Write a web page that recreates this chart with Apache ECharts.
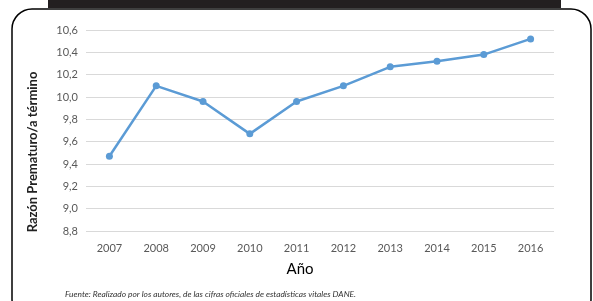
<!DOCTYPE html>
<html>
<head>
    <meta charset="utf-8">
    <title>Razón prematuro/a término</title>
    <style>
        html, body { margin: 0; padding: 0; background: #fff; }
        #chart { width: 593px; height: 301px; }
    </style>
</head>
<body>
<div id="chart"></div>
<script src="https://cdn.jsdelivr.net/npm/echarts@6/dist/echarts.min.js"></script>
<script>
    // datos
    var anios = ['2007', '2008', '2009', '2010', '2011', '2012', '2013', '2014', '2015', '2016'];
    var razon = [9.47, 10.10, 9.96, 9.67, 9.96, 10.10, 10.27, 10.32, 10.38, 10.52];
    var yMin = 8.8, yMax = 10.6, yPaso = 0.2;

    var myChart = echarts.init(document.getElementById('chart'));
    var fuente = 'Lato, "Open Sans", sans-serif';

    var option = {
        animation: false,
        grid: { left: 86, right: 39, top: 30, bottom: 70 },
        xAxis: {
            type: 'category',
            data: anios,
            boundaryGap: true,
            axisLine: { show: false },
            axisTick: { show: false },
            axisLabel: { color: '#595959', fontSize: 11, fontFamily: fuente, margin: 12 }
        },
        yAxis: {
            type: 'value',
            min: yMin,
            max: yMax,
            interval: yPaso,
            axisLine: { show: false },
            axisTick: { show: false },
            splitLine: { lineStyle: { color: '#d9d9d9', width: 1 } },
            axisLabel: {
                color: '#595959', fontSize: 11, fontFamily: fuente, margin: 8,
                formatter: function (v) { return v.toFixed(1).replace('.', ','); }
            }
        },
        series: [{
            type: 'line',
            data: razon,
            symbol: 'circle',
            symbolSize: 7,
            lineStyle: { color: '#5b9bd5', width: 2.5 },
            itemStyle: { color: '#5b9bd5' }
        }],
        graphic: [
            // marco redondeado
            {
                type: 'rect', silent: true, z: -1,
                shape: { x: 12, y: 9, width: 579, height: 310, r: 20 },
                style: { fill: 'none', stroke: '#000', lineWidth: 1.5 }
            },
            // franja superior negra
            {
                type: 'rect', silent: true,
                shape: { x: 48, y: 0, width: 513, height: 8 },
                style: { fill: '#231f20' }
            },
            {
                type: 'text', silent: true,
                x: 300, y: 269,
                style: { text: 'Año', fill: '#000', font: '15px ' + fuente, textAlign: 'center', textVerticalAlign: 'middle' }
            },
            {
                type: 'text', silent: true,
                x: 33, y: 152, rotation: Math.PI / 2,
                style: { text: 'Razón Prematuro/a término', fill: '#222', font: 'bold 13px ' + fuente, textAlign: 'center', textVerticalAlign: 'middle' }
            },
            {
                type: 'text', silent: true,
                x: 65, y: 294,
                style: { text: 'Fuente: Realizado por los autores, de las cifras oficiales de estadísticas vitales DANE.', fill: '#333', font: 'italic 8.4px ' + fuente, textAlign: 'left', textVerticalAlign: 'middle' }
            }
        ]
    };
    myChart.setOption(option);
</script>
</body>
</html>
